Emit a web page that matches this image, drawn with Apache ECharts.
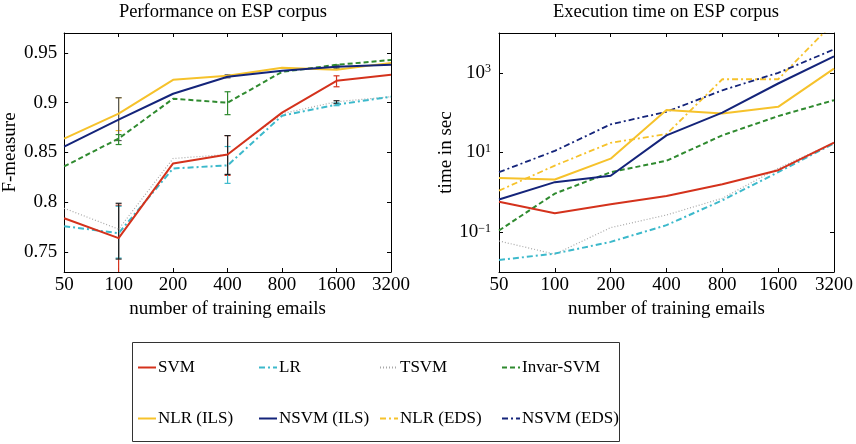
<!DOCTYPE html>
<html>
<head>
<meta charset="utf-8">
<script src="https://cdn.jsdelivr.net/npm/echarts@6/dist/echarts.min.js"></script>
<style>
  html, body { margin: 0; padding: 0; background: #fff; }
  #main { width: 856px; height: 444px; }
</style>
</head>
<body>
<div id="main"></div>
<script>
// training set sizes
const sizes = ['50', '100', '200', '400', '800', '1600', '3200'];

// F-measure (left panel)
const fSVM    = [0.784, 0.764, 0.839, 0.848, 0.890, 0.922, 0.928];
const fLR     = [0.776, 0.769, 0.834, 0.837, 0.887, 0.898, 0.906];
const fTSVM   = [0.794, 0.773, 0.844, 0.848, 0.889, 0.901, 0.906];
const fInvar  = [0.836, 0.864, 0.904, 0.900, 0.931, 0.938, 0.943];
const fNLRils = [0.864, 0.889, 0.923, 0.927, 0.935, 0.933, 0.940];
const fNSVMils= [0.856, 0.883, 0.909, 0.926, 0.932, 0.936, 0.938];

// execution time in sec (right panel)
const tSVM    = [0.58, 0.30, 0.50, 0.81, 1.6, 3.6, 17.8];
const tLR     = [0.020, 0.029, 0.057, 0.15, 0.63, 3.2, 17];
const tTSVM   = [0.060, 0.028, 0.13, 0.27, 0.71, 4.0, 17.5];
const tInvar  = [0.11, 0.93, 3.2, 6.2, 27, 82, 206];
const tNLRils = [2.3, 2.1, 7, 116, 95, 140, 1280];
const tNSVMils= [0.66, 1.8, 2.6, 27, 100, 540, 2600];
const tNLReds = [1.1, 4.7, 17.5, 29, 690, 690, 18600];
const tNSVMeds= [3.2, 11, 51, 105, 365, 1000, 3880];

// error bars on the F-measure panel: [size index, low, high, series]
const fErr = [
  [1, 0.872, 0.905, 'NLR (ILS)'],
  [1, 0.862, 0.905, 'NSVM (ILS)'],
  [1, 0.858, 0.868, 'Invar-SVM'],
  [1, 0.725, 0.797, 'SVM'],
  [1, 0.744, 0.796, 'LR'],
  [1, 0.743, 0.799, 'TSVM'],
  [3, 0.827, 0.867, 'SVM'],
  [3, 0.819, 0.856, 'LR'],
  [3, 0.828, 0.867, 'TSVM'],
  [3, 0.888, 0.911, 'Invar-SVM'],
  [3, 0.925, 0.928, 'NSVM (ILS)'],
  [5, 0.916, 0.927, 'SVM'],
  [5, 0.897, 0.900, 'LR'],
  [5, 0.899, 0.902, 'TSVM'],
  [5, 0.935, 0.938, 'Invar-SVM'],
  [5, 0.934, 0.937, 'NSVM (ILS)']
];

const fTicks = [0.75, 0.8, 0.85, 0.9, 0.95];
const tTicks = [0.1, 10, 1000];

const legendNames = ['SVM', 'LR', 'TSVM', 'Invar-SVM', 'NLR (ILS)', 'NSVM (ILS)', 'NLR (EDS)', 'NSVM (EDS)'];

const styles = {
  'SVM':        { color: '#d4321c', type: 'solid', width: 2 },
  'LR':         { color: '#3cb9cb', type: [6, 3, 2, 3], width: 2 },
  'TSVM':       { color: '#a8a8a8', type: [1, 2], width: 1.2 },
  'Invar-SVM':  { color: '#2f8a2f', type: [5, 3], width: 2 },
  'NLR (ILS)':  { color: '#f6c22b', type: 'solid', width: 2 },
  'NSVM (ILS)': { color: '#14247a', type: 'solid', width: 2 },
  'NLR (EDS)':  { color: '#f6c22b', type: [6, 3, 2, 3], width: 1.8 },
  'NSVM (EDS)': { color: '#14247a', type: [6, 3, 2, 3], width: 1.8 }
};
const errColor = { 'TSVM': '#222', 'NSVM (ILS)': '#555' };

const font = 'Liberation Serif';
const lbl = 19;

let myChart = echarts.init(document.getElementById('main'));

function line(name, data, xi, yi) {
  const s = styles[name];
  return {
    name: name,
    type: 'line',
    xAxisIndex: xi,
    yAxisIndex: yi,
    data: data,
    symbol: 'none',
    color: s.color,
    lineStyle: { color: s.color, type: s.type, width: s.width },
    z: 3
  };
}

function catAxis(grid, pos, withLabels) {
  return {
    type: 'category',
    gridIndex: grid,
    position: pos,
    data: sizes,
    boundaryGap: false,
    axisLine: { show: true, lineStyle: { color: '#000', width: 1 } },
    axisTick: { show: true, inside: true, length: 4, lineStyle: { color: '#000' } },
    axisLabel: { show: withLabels, color: '#000', fontSize: lbl, fontFamily: font, margin: 4 },
    splitLine: { show: false },
    name: withLabels ? 'number of training emails' : '',
    nameLocation: 'middle',
    nameGap: 21,
    nameTextStyle: { color: '#000', fontSize: lbl, fontFamily: font }
  };
}

function supFmt(v) {
  const e = Math.round(Math.log10(v));
  return '10{sup|' + (e < 0 ? '\u2212' + (-e) : e) + '}';
}

let option = {
  backgroundColor: '#fff',
  animation: false,
  textStyle: { fontFamily: font },
  title: [
    { text: 'Performance on ESP corpus', left: 223, top: 3, textAlign: 'center', padding: 0,
      textStyle: { fontSize: 18.5, fontWeight: 'normal', color: '#000', fontFamily: font } },
    { text: 'Execution time on ESP corpus', left: 666, top: 3, textAlign: 'center', padding: 0,
      textStyle: { fontSize: 18.5, fontWeight: 'normal', color: '#000', fontFamily: font } }
  ],
  grid: [
    { left: 56, top: 33, width: 335, height: 239 },
    { left: 499, top: 33, width: 335, height: 239 }
  ],
  xAxis: [
    catAxis(0, 'bottom', true),
    catAxis(0, 'top', false),
    catAxis(1, 'bottom', true),
    catAxis(1, 'top', false)
  ],
  yAxis: [
    {
      type: 'value', gridIndex: 0, position: 'left', min: 0.73, max: 0.97,
      axisLine: { show: true, lineStyle: { color: '#000' } },
      axisTick: { show: true, inside: true, length: 4, customValues: fTicks, lineStyle: { color: '#000' } },
      axisLabel: { customValues: fTicks, color: '#000', fontSize: lbl, fontFamily: font, margin: 7,
        formatter: v => String(v) },
      splitLine: { show: false },
      name: 'F-measure', nameLocation: 'middle', nameGap: 41, nameRotate: 90,
      nameTextStyle: { color: '#000', fontSize: lbl, fontFamily: font }
    },
    {
      type: 'value', gridIndex: 0, position: 'right', min: 0.73, max: 0.97,
      axisLine: { show: true, lineStyle: { color: '#000' } },
      axisTick: { show: true, inside: true, length: 4, customValues: fTicks, lineStyle: { color: '#000' } },
      axisLabel: { show: false },
      splitLine: { show: false }
    },
    {
      type: 'log', logBase: 10, gridIndex: 1, position: 'left', min: 0.01, max: 10000,
      axisLine: { show: true, lineStyle: { color: '#000' } },
      axisTick: { show: true, inside: true, length: 4, customValues: tTicks, lineStyle: { color: '#000' } },
      axisLabel: {
        customValues: tTicks, color: '#000', fontSize: lbl, fontFamily: font, margin: 8,
        formatter: supFmt,
        rich: { sup: { fontSize: 12, fontFamily: font, color: '#000', verticalAlign: 'top', padding: [0, 0, 6, 0] } }
      },
      splitLine: { show: false },
      name: 'time in sec', nameLocation: 'middle', nameGap: 40, nameRotate: 90,
      nameTextStyle: { color: '#000', fontSize: lbl, fontFamily: font }
    },
    {
      type: 'log', logBase: 10, gridIndex: 1, position: 'right', min: 0.01, max: 10000,
      axisLine: { show: true, lineStyle: { color: '#000' } },
      axisTick: { show: true, inside: true, length: 4, customValues: tTicks, lineStyle: { color: '#000' } },
      axisLabel: { show: false },
      splitLine: { show: false }
    }
  ],
  legend: legendNames.map((n, i) => ({
    data: [n],
    left: [137, 258, 379, 501][i % 4],
    top: i < 4 ? 359 : 410,
    padding: 0,
    itemWidth: 18,
    itemHeight: 18,
    selectedMode: false,
    itemStyle: { opacity: 0 },
    textStyle: { color: '#000', fontSize: 17, fontFamily: font, padding: [0, 0, 0, -3] }
  })),
  graphic: [{
    type: 'rect',
    shape: { x: 132.5, y: 342.5, width: 487, height: 99 },
    style: { fill: 'none', stroke: '#333', lineWidth: 1 },
    silent: true
  }],
  series: [
    {
      type: 'custom',
      name: 'errors',
      xAxisIndex: 0,
      yAxisIndex: 0,
      data: fErr,
      z: 2,
      clip: true,
      renderItem: function (params, api) {
        const x = api.value(0);
        const lo = api.coord([x, api.value(1)]);
        const hi = api.coord([x, api.value(2)]);
        const name = fErr[params.dataIndex][3];
        const c = errColor[name] || styles[name].color;
        const w = 3;
        return {
          type: 'group',
          children: [
            { type: 'line', shape: { x1: lo[0], y1: lo[1], x2: hi[0], y2: hi[1] }, style: { stroke: c, lineWidth: 1.2 } },
            { type: 'line', shape: { x1: lo[0] - w, y1: lo[1], x2: lo[0] + w, y2: lo[1] }, style: { stroke: c, lineWidth: 1.2 } },
            { type: 'line', shape: { x1: hi[0] - w, y1: hi[1], x2: hi[0] + w, y2: hi[1] }, style: { stroke: c, lineWidth: 1.2 } }
          ]
        };
      }
    },
    line('TSVM', fTSVM, 0, 0),
    line('LR', fLR, 0, 0),
    line('Invar-SVM', fInvar, 0, 0),
    line('SVM', fSVM, 0, 0),
    line('NLR (ILS)', fNLRils, 0, 0),
    line('NSVM (ILS)', fNSVMils, 0, 0),

    line('TSVM', tTSVM, 2, 2),
    line('LR', tLR, 2, 2),
    line('Invar-SVM', tInvar, 2, 2),
    line('SVM', tSVM, 2, 2),
    line('NLR (EDS)', tNLReds, 2, 2),
    line('NSVM (EDS)', tNSVMeds, 2, 2),
    line('NLR (ILS)', tNLRils, 2, 2),
    line('NSVM (ILS)', tNSVMils, 2, 2)
  ]
};
myChart.setOption(option);
</script>
</body>
</html>
